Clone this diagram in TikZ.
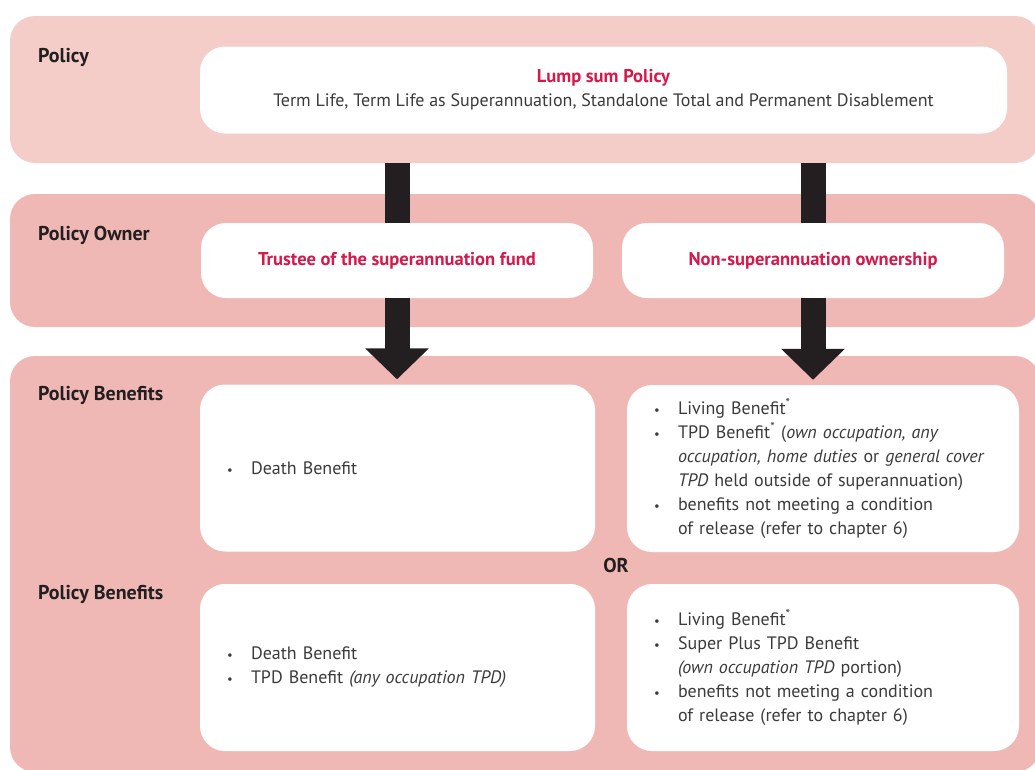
\documentclass[tikz,border=0pt]{standalone}
\usepackage{fontspec}
\setmainfont{PT Sans}
\usetikzlibrary{arrows.meta}
\definecolor{bandlight}{HTML}{F4CDC9}
\definecolor{banddark}{HTML}{EFB8B4}
\definecolor{crimson}{HTML}{D6184B}
\definecolor{ink}{HTML}{3B3B3B}
\definecolor{arrowblack}{HTML}{231F20}
\newcommand{\bul}{\makebox[24pt][l]{\scalebox{0.7}{\textbullet}}}
\newcommand{\cont}{\hspace*{24pt}}
\newcommand{\starnote}{\textsuperscript{*}}

\begin{document}
\begin{tikzpicture}[x=1pt, y=-1pt,
    band/.style={inner sep=0pt, rounded corners=25pt, minimum width=1030pt},
    whitebox/.style={fill=white, inner sep=0pt, rounded corners=25pt, text=ink,
        font=\fontsize{18}{24}\selectfont},
    listbox/.style={whitebox, align=left, inner xsep=27pt, minimum height=167pt},
    ownertext/.style={whitebox, text=crimson, font=\fontsize{18.5}{24}\selectfont\bfseries,
        minimum width=392pt, minimum height=75pt},
    rowlabel/.style={inner sep=0pt, text=arrowblack, font=\fontsize{20}{22}\selectfont\bfseries},
    shaft/.style={draw=arrowblack, line width=25pt}]
    \useasboundingbox (0,0) rectangle (1035,769);

    % Bands.
    \node[band, fill=bandlight, minimum height=147pt] (policyband) at (525,89.5) {};
    \node[band, fill=banddark, minimum height=133pt] (ownerband) at (525,260.5) {};
    \node[band, fill=banddark, minimum height=416pt] (benefitband) at (525,564) {};

    % Row labels.
    \node[rowlabel, anchor=base west] (policylabel) at (38,62) {Policy};
    \node[rowlabel, anchor=base west] (ownerlabel) at (38,240) {Policy Owner};
    \node[rowlabel, anchor=base west] (benefitlabel) at (38,400) {Policy Benefits};
    \node[rowlabel, anchor=base west] (benefitlabelalt) at (38,599) {Policy Benefits};
    \node[rowlabel, anchor=base] (ortext) at (616,572) {OR};

    % Policy.
    \node[whitebox, align=center, minimum width=807pt, minimum height=87pt] (lumpsum) at (603.5,90)
        {{\color{crimson}\fontsize{18.5}{24}\selectfont\bfseries Lump sum Policy}\\
         Term Life, Term Life as Superannuation, Standalone Total and Permanent Disablement};

    % Owners.
    \node[ownertext] (trustee) at (397,260.5) {Trustee of the superannuation fund};
    \node[ownertext, minimum width=382pt] (nonsuper) at (813,260.5) {Non-superannuation ownership};

    % Benefits.
    \node[listbox, text width=341pt] (superben) at (397.5,468)
        {\bul Death Benefit};
    \node[listbox, text width=338pt] (nonsuperben) at (823,468.5)
        {\bul Living Benefit\starnote\\
         \bul TPD Benefit\starnote{} (\textit{own occupation, any}\\
         \cont\textit{occupation, home duties} or \textit{general cover}\\
         \cont\textit{TPD} held outside of superannuation)\\
         \bul benefits not meeting a condition\\
         \cont of release (refer to chapter 6)};
    \node[listbox, text width=341pt] (superbenalt) at (397.5,667.5)
        {\bul Death Benefit\\
         \bul TPD Benefit \textit{(any occupation TPD)}};
    \node[listbox, text width=338pt] (nonsuperbenalt) at (823,667.5)
        {\bul Living Benefit\starnote\\
         \bul Super Plus TPD Benefit\\
         \cont\textit{(own occupation TPD} portion)\\
         \bul benefits not meeting a condition\\
         \cont of release (refer to chapter 6)};

    % Arrows.
    \draw[shaft] (policyband.south -| trustee.north) -- (trustee.north);
    \draw[shaft] (policyband.south -| nonsuper.north) -- (nonsuper.north);
    \draw[shaft, -{Triangle[width=62pt,length=31pt]}] (trustee.south) -- ([yshift=5pt]trustee.south |- superben.north);
    \draw[shaft, -{Triangle[width=62pt,length=31pt]}] (nonsuper.south) -- ([yshift=5pt]nonsuper.south |- nonsuperben.north);
\end{tikzpicture}
\end{document}
